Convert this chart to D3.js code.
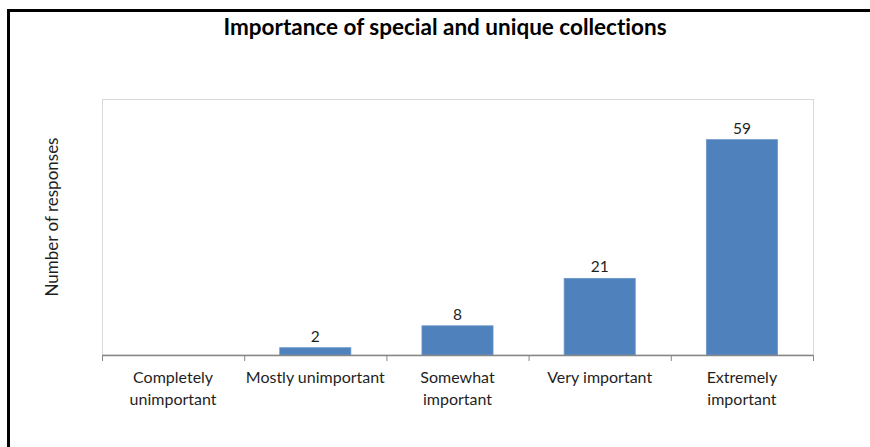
<!DOCTYPE html>
<html><head><meta charset="utf-8">
<script src="https://cdn.jsdelivr.net/npm/d3@7"></script>
<style>html,body{margin:0;padding:0;background:#fff;}svg{display:block;}text{font-variant-ligatures:none;}</style>
</head><body>
<script>
const categories = [["Completely","unimportant"],["Mostly unimportant"],["Somewhat","important"],["Very important"],["Extremely","important"]];
const categoryKeys = ["Completely unimportant","Mostly unimportant","Somewhat important","Very important","Extremely important"];
const responses = [0, 2, 8, 21, 59];
const yDomain = [0, 70];
const title = "Importance of special and unique collections";
const yTitle = "Number of responses";

const W = 870, H = 447;
const svg = d3.select("body").append("svg").attr("width", W).attr("height", H);
const font = "Lato, 'Open Sans', sans-serif";
const textColor = "#1f1f1f";

// outer frame
svg.append("rect").attr("x", 8.5).attr("y", 10.5).attr("width", W + 10).attr("height", H + 10)
  .attr("fill", "none").attr("stroke", "#000").attr("stroke-width", 3);

const plot = {l: 102, r: 813, t: 99.5, b: 355};
const x = d3.scaleBand().domain(categoryKeys).range([plot.l, plot.r]).paddingInner(0.5).paddingOuter(0.25);
const y = d3.scaleLinear().domain(yDomain).range([plot.b, plot.t]);

const rows = responses.map((v, i) => ({key: categoryKeys[i], value: v}));

// plot border
svg.append("rect").attr("x", plot.l + 0.5).attr("y", plot.t).attr("width", plot.r - plot.l).attr("height", plot.b - plot.t)
  .attr("fill", "none").attr("stroke", "#d9d9d9").attr("stroke-width", 1);

// bars
svg.selectAll("rect.bar").data(rows).join("rect").attr("class", "bar")
  .attr("x", d => x(d.key))
  .attr("y", d => y(d.value))
  .attr("width", x.bandwidth())
  .attr("height", d => y(0) - y(d.value))
  .attr("fill", "#4f81bd").attr("stroke", "#6a96c9").attr("stroke-width", 0.8);

// value labels
svg.selectAll("text.val").data(rows.filter(d => d.value > 0)).join("text").attr("class", "val")
  .attr("x", d => x(d.key) + x.bandwidth() / 2)
  .attr("y", d => y(d.value) - 6)
  .attr("text-anchor", "middle").attr("font-family", font).attr("font-size", 15.5).attr("fill", textColor)
  .text(d => d.value);

// x axis
const xOuter = d3.scaleBand().domain(categoryKeys).range([plot.l, plot.r]);
const gx = svg.append("g").attr("transform", `translate(0,${plot.b})`);
gx.append("line").attr("x1", plot.l).attr("x2", plot.r).attr("y1", 0.5).attr("y2", 0.5).attr("stroke", "#868686").attr("stroke-width", 1.5);
const tickXs = categoryKeys.map(k => xOuter(k)).concat([plot.r]);
gx.selectAll("line.tick").data(tickXs).join("line").attr("class", "tick")
  .attr("x1", d => d + 0.5).attr("x2", d => d + 0.5).attr("y1", 0).attr("y2", 6)
  .attr("stroke", "#868686").attr("stroke-width", 1);

const lbl = gx.selectAll("text.cat").data(categories).join("text").attr("class", "cat")
  .attr("x", (d, i) => xOuter(categoryKeys[i]) + xOuter.bandwidth() / 2)
  .attr("y", 28)
  .attr("text-anchor", "middle").attr("font-family", font).attr("font-size", 16).attr("fill", textColor);
lbl.selectAll("tspan").data(d => d).join("tspan")
  .attr("x", function() { return this.parentNode.getAttribute("x"); })
  .attr("dy", (d, i) => i === 0 ? 0 : 21.5)
  .text(d => d);

// y title
svg.append("text").attr("transform", `translate(58,217) rotate(-90)`)
  .attr("text-anchor", "middle").attr("font-family", font).attr("font-size", 17).attr("fill", textColor)
  .text(yTitle);

// title
svg.append("text").attr("x", 445).attr("y", 35).attr("text-anchor", "middle")
  .attr("font-family", font).attr("font-size", 22.5).attr("font-weight", 700).attr("fill", "#000")
  .text(title);
</script>
</body></html>
